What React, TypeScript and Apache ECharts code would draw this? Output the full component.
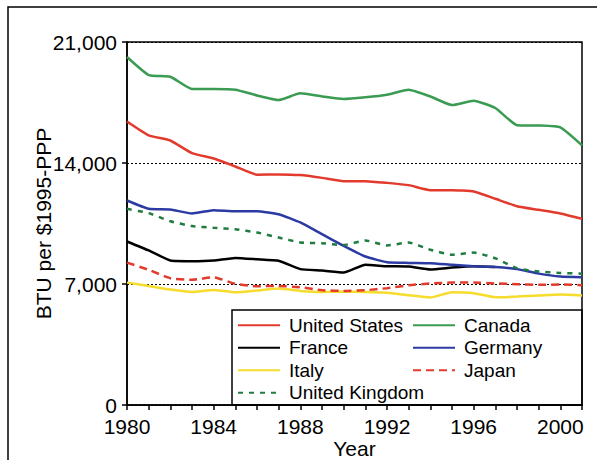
import React, { useEffect, useRef } from "react";
import * as echarts from "echarts";

const years = [
  "1980", "1981", "1982", "1983", "1984", "1985", "1986", "1987", "1988", "1989", "1990",
  "1991", "1992", "1993", "1994", "1995", "1996", "1997", "1998", "1999", "2000", "2001",
];

const unitedStates = [16400, 15600, 15300, 14570, 14260, 13800, 13320, 13340, 13300, 13140, 12950, 12950, 12850, 12720, 12430, 12430, 12350, 11930, 11500, 11290, 11080, 10770];
const canada = [20130, 19090, 18990, 18280, 18280, 18240, 17910, 17640, 18030, 17850, 17700, 17800, 17950, 18240, 17850, 17350, 17600, 17180, 16190, 16170, 16060, 15020];
const france = [9460, 8940, 8360, 8320, 8360, 8510, 8430, 8340, 7860, 7780, 7660, 8110, 8030, 8010, 7840, 7950, 8030, 7990, null, null, null, null];
const germany = [11830, 11350, 11310, 11080, 11270, 11210, 11210, 11040, 10560, 9880, 9210, 8590, 8260, 8220, 8200, 8110, 8030, 7990, 7860, 7600, 7430, 7390];
const italy = [7080, 6890, 6680, 6540, 6660, 6520, 6620, 6740, 6600, 6540, 6560, 6540, 6500, 6350, 6220, 6520, 6470, 6230, 6270, 6330, 6390, 6330];
const japan = [8240, 7820, 7330, 7240, 7390, 7010, 6870, 6890, 6810, 6640, 6600, 6640, 6760, 6930, 7030, 7080, 7080, 7030, 6990, 6950, 6970, 6930];
const unitedKingdom = [11350, 11100, 10630, 10350, 10250, 10170, 9980, 9690, 9400, 9360, 9250, 9520, 9230, 9400, 8980, 8690, 8820, 8490, 7910, 7720, 7640, 7600];

const yTicks = [0, 7000, 14000, 21000];

const RED = "#e23b2e";
const GREEN = "#3a9b52";
const BLUE = "#2b3ba3";
const YELLOW = "#f6dc2c";
const UKGREEN = "#1f7d3f";

const FONT = "Liberation Sans";

export default function App() {
  const ref = useRef<HTMLDivElement>(null);
  useEffect(() => {
    if (!ref.current) return;
    const chart = echarts.init(ref.current, undefined, { renderer: "svg" });
    const mk = (name: string, data: (number | null)[], color: string, type: any = "solid") => ({
      name,
      type: "line",
      data,
      smooth: 0.15,
      symbol: "none",
      showSymbol: false,
      connectNulls: false,
      lineStyle: { color, width: 2.5, type },
      itemStyle: { color },
    });
    const legendCommon = {
      orient: "vertical",
      itemWidth: 42,
      itemHeight: 2,
      itemGap: 0,
      padding: 0,
      itemStyle: { opacity: 0 },
      textStyle: { fontFamily: FONT, fontSize: 19, color: "#000", lineHeight: 22.5, padding: [0, 0, 0, 4] },
      selectedMode: false,
    };
    chart.setOption({
      animation: false,
      backgroundColor: "#fff",
      grid: {
        left: 127,
        right: 15,
        top: 42,
        bottom: 55,
        show: true,
        borderColor: "#000",
        borderWidth: 1.5,
        containLabel: false,
        outerBoundsMode: "none",
      },
      xAxis: {
        type: "category",
        data: years,
        boundaryGap: false,
        name: "Year",
        nameLocation: "middle",
        nameGap: 33,
        nameMoveOverlap: false,
        nameTextStyle: { fontFamily: FONT, fontSize: 21, color: "#000", lineHeight: 20 },
        axisLine: { lineStyle: { color: "#000", width: 1.5 } },
        axisTick: { show: true, interval: 0, length: 5, lineStyle: { color: "#000", width: 1.5 } },
        axisLabel: { interval: 3, margin: 11, fontFamily: FONT, fontSize: 21, color: "#000" },
        splitLine: { show: false },
      },
      yAxis: {
        type: "value",
        min: 0,
        max: 21000,
        interval: 7000,
        name: "BTU per $1995-PPP",
        nameLocation: "middle",
        nameGap: 73,
        nameMoveOverlap: false,
        nameTextStyle: { fontFamily: FONT, fontSize: 21, color: "#000" },
        axisLine: { show: true, lineStyle: { color: "#000", width: 1.5 } },
        axisTick: { show: true, length: 5, lineStyle: { color: "#000", width: 1.5 } },
        axisLabel: {
          margin: 10,
          fontFamily: FONT,
          fontSize: 21,
          color: "#000",
          formatter: (v: number) => (yTicks.includes(v) ? v.toLocaleString("en-US") : ""),
        },
        splitLine: { show: true, lineStyle: { color: "#000", width: 1, type: [2, 2] } },
      },
      legend: [
        {
          ...legendCommon,
          left: 237,
          top: 314,
          data: ["United States", "France", "Italy", "United Kingdom"],
        },
        {
          ...legendCommon,
          left: 412,
          top: 314,
          data: ["Canada", "Germany", "Japan"],
        },
      ],
      graphic: [
        {
          type: "rect",
          shape: { x: 8, y: 7, width: 700, height: 600 },
          style: { fill: "none", stroke: "#000", lineWidth: 1.5 },
          silent: true,
        },
        {
          type: "rect",
          shape: { x: 232, y: 310, width: 350, height: 95 },
          style: { fill: "none", stroke: "#000", lineWidth: 1.5 },
          silent: true,
        },
      ],
      series: [
        mk("United States", unitedStates, RED),
        mk("Canada", canada, GREEN),
        mk("France", france, "#000"),
        mk("Germany", germany, BLUE),
        mk("Italy", italy, YELLOW),
        mk("Japan", japan, RED, [8, 5]),
        mk("United Kingdom", unitedKingdom, UKGREEN, [5, 6]),
      ],
    });
    return () => chart.dispose();
  }, []);
  return (
    <div
      ref={ref}
      style={{ position: "fixed", left: 0, top: 0, width: 597, height: 460 }}
    />
  );
}
